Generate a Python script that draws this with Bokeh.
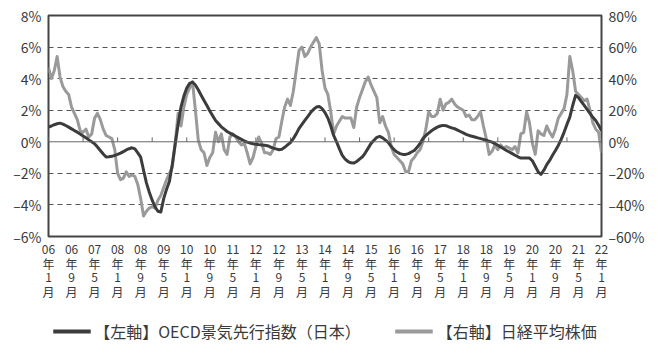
from bokeh.plotting import figure
from bokeh.layouts import column
from bokeh.models import LinearAxis, Range1d, FixedTicker, Span, Legend, LegendItem
from bokeh.embed import file_html
from bokeh.resources import INLINE

# ---- data (monthly, 2006-01 .. 2022-01) ----
oecd_cli = [
    0.93, 1.00, 1.08, 1.14, 1.18, 1.12, 1.03, 0.93, 0.82, 0.71, 0.61, 0.49,
    0.37, 0.25, 0.12, 0.00, -0.12, -0.33, -0.55, -0.77, -0.97, -0.95, -0.92, -0.86,
    -0.80, -0.72, -0.62, -0.52, -0.44, -0.38, -0.45, -0.70, -0.97, -1.80, -2.60, -3.20,
    -3.70, -4.13, -4.40, -4.45, -3.60, -3.00, -2.50, -1.40, -0.12, 1.10, 2.20, 2.90,
    3.40, 3.70, 3.78, 3.60, 3.30, 2.95, 2.62, 2.30, 1.95, 1.65, 1.35, 1.15,
    0.95, 0.80, 0.65, 0.55, 0.45, 0.35, 0.25, 0.15, 0.05, -0.02, -0.08, -0.12,
    -0.15, -0.18, -0.20, -0.22, -0.25, -0.33, -0.40, -0.45, -0.50, -0.48, -0.35, -0.20,
    -0.05, 0.20, 0.50, 0.85, 1.10, 1.35, 1.60, 1.85, 2.05, 2.20, 2.24, 2.10,
    1.85, 1.50, 1.00, 0.40, 0.00, -0.45, -0.86, -1.10, -1.25, -1.33, -1.35, -1.25,
    -1.10, -0.95, -0.70, -0.40, -0.10, 0.10, 0.28, 0.34, 0.25, 0.10, -0.05, -0.30,
    -0.50, -0.65, -0.75, -0.80, -0.80, -0.75, -0.65, -0.55, -0.35, -0.10, 0.20, 0.40,
    0.55, 0.70, 0.82, 0.93, 1.00, 1.04, 1.02, 0.95, 0.88, 0.83, 0.74, 0.65,
    0.56, 0.47, 0.40, 0.35, 0.30, 0.25, 0.20, 0.15, 0.10, 0.03, -0.02, -0.12,
    -0.22, -0.33, -0.44, -0.55, -0.65, -0.75, -0.85, -0.95, -1.03, -1.03, -1.03, -1.03,
    -1.20, -1.55, -1.90, -2.06, -1.80, -1.45, -1.18, -0.85, -0.55, -0.23, 0.15, 0.60,
    1.10, 1.56, 2.30, 2.94, 2.80, 2.55, 2.30, 2.05, 1.80, 1.55, 1.35, 1.05,
    0.72,
]

nikkei_yoy = [
    47, 40, 45, 54, 41, 35, 32, 30, 22, 18, 14, 7,
    6, 8, 3, 5, 15, 18, 14, 8, 4, 3, 2, -5,
    -20, -24, -23, -19, -22, -21, -22, -27, -36, -47, -44, -42,
    -41, -42, -37, -34, -29, -24, -20, -16, -1, 18, 10, 22,
    30, 34, 38, 20, 1, -5, -7, -15, -10, -7, 6, 0,
    5, -5, -8, 3, 5, 3, 0, -2, -1, -7, -14, -10,
    -3, 3, -1, -7, -7, -8, -5, 2, 3, 13, 22, 27,
    23, 32, 45, 58, 60, 54, 56, 60, 63, 66, 62, 45,
    34, 30, 19, 5, 10, 13, 16, 15, 15, 15, 9, 22,
    28, 33, 38, 41, 36, 32, 28, 12, 16, 10, 6, -3,
    -8, -10, -12, -14, -19, -19, -12, -10, -7, -5, 0, 8,
    19, 16, 16, 18, 27, 20, 24, 25, 27, 24, 22, 21,
    20, 16, 17, 14, 14, 16, 19, 10, 2, -8, -6, -2,
    -5, -2, -4, -3, -4, -5, -3, -7, 5, 6, 19, 12,
    -1, -8, 7, 5, 4, 10, 6, 3, 8, 15, 18, 21,
    30, 54, 45, 32, 30, 28, 26, 27, 20, 12, 8, 6,
    -7,
]

tick_labels = ["06年1月", "06年9月", "07年5月", "08年1月", "08年9月", "09年5月", "10年1月",
               "10年9月", "11年5月", "12年1月", "12年9月", "13年5月", "14年1月", "14年9月",
               "15年5月", "16年1月", "16年9月", "17年5月", "18年1月", "18年9月", "19年5月",
               "20年1月", "20年9月", "21年5月", "22年1月"]
left_ticks = [-6, -4, -2, 0, 2, 4, 6, 8]
right_ticks = [-60, -40, -20, 0, 20, 40, 60, 80]
series_names = ["【左軸】OECD景気先行指数（日本）", "【右軸】日経平均株価"]

months = list(range(len(oecd_cli)))
tick_pos = list(range(0, len(oecd_cli), 8))
year_pos = list(range(0, len(oecd_cli), 12))

FONT = "Noto Sans CJK JP"
TXT = "#3a3a3a"
DARK = "#3c3c3c"
GREY = "#9a9a9a"

p = figure(width=660, height=310, output_backend="svg", toolbar_location=None,
           x_range=Range1d(0, 192), y_range=Range1d(-6, 8),
           min_border_left=48, min_border_right=59, min_border_top=15, min_border_bottom=74,
           background_fill_color="white", border_fill_color="white")
p.extra_y_ranges = {"right": Range1d(-60, 80)}

p.outline_line_color = "#444444"
p.outline_line_width = 2

# grid
p.xgrid.visible = False
p.ygrid.ticker = FixedTicker(ticks=[-4, -2, 2, 4, 6])
p.ygrid.grid_line_color = "#555555"
p.ygrid.grid_line_dash = "5 4"
p.ygrid.grid_line_width = 1

p.add_layout(Span(location=0, dimension="width", line_color="#666666", line_width=1))
p.segment(x0=year_pos, y0=[0] * len(year_pos), x1=year_pos, y1=[0.28] * len(year_pos),
          line_color="#666666", line_width=1)

# axes
def style(ax, size):
    ax.axis_line_color = None
    ax.major_tick_line_color = None
    ax.minor_tick_line_color = None
    ax.major_tick_out = 0
    ax.major_tick_in = 0
    ax.minor_tick_out = 0
    ax.minor_tick_in = 0
    ax.axis_label_standoff = 0
    ax.major_label_text_font = FONT
    ax.major_label_text_color = TXT
    ax.major_label_text_font_size = size

ya = p.yaxis[0]
ya.ticker = FixedTicker(ticks=left_ticks)
ya.major_label_overrides = {t: ("–" if t < 0 else "") + f"{abs(t)}%" for t in left_ticks}
ya.major_label_standoff = 7
style(ya, "14px")

ra = LinearAxis(y_range_name="right", ticker=FixedTicker(ticks=right_ticks))
ra.major_label_overrides = {t: ("–" if t < 0 else "") + f"{abs(t)}%" for t in right_ticks}
ra.major_label_standoff = 7
style(ra, "14px")
p.add_layout(ra, "right")

# x tick labels written vertically: one axis per character row
rows = [
    [lab[:2] for lab in tick_labels],
    [lab[2] for lab in tick_labels],
    [lab[3:-1] for lab in tick_labels],
    [lab[-1] for lab in tick_labels],
]
xa = p.xaxis[0]
x_axes = [xa] + [LinearAxis() for _ in rows[1:]]
for i, (ax, row) in enumerate(zip(x_axes, rows)):
    ax.ticker = FixedTicker(ticks=tick_pos)
    ax.major_label_overrides = dict(zip(tick_pos, row))
    ax.major_label_standoff = 8 if i == 0 else -2
    style(ax, "12px")
    if i > 0:
        p.add_layout(ax, "below")

# lines
p.line(months, nikkei_yoy, y_range_name="right", line_color=GREY, line_width=3,
       line_join="round")
p.line(months, oecd_cli, line_color=DARK, line_width=3, line_join="round")

# legend strip below the chart (swatch renderers sit outside the visible range)
pl = figure(width=660, height=42, output_backend="svg", toolbar_location=None,
            x_range=Range1d(0, 1), y_range=Range1d(0, 1),
            x_axis_location=None, y_axis_location=None,
            min_border_left=0, min_border_right=14, min_border_top=0, min_border_bottom=0,
            background_fill_color="white", border_fill_color="white")
pl.outline_line_color = None
pl.xgrid.visible = False
pl.ygrid.visible = False
l1 = pl.line([-5, -4], [-5, -5], line_color=DARK, line_width=4)
l2 = pl.line([-5, -4], [-6, -6], line_color=GREY, line_width=4)

legend = Legend(items=[LegendItem(label=series_names[0], renderers=[l1]),
                       LegendItem(label=series_names[1], renderers=[l2])],
                orientation="horizontal", location="center")
legend.label_text_font = FONT
legend.label_text_font_size = "16px"
legend.label_text_color = TXT
legend.glyph_width = 38
legend.spacing = 34
legend.label_standoff = 4
legend.border_line_color = None
legend.background_fill_alpha = 0
legend.margin = 0
legend.padding = 0
pl.add_layout(legend, "center")

layout = column(p, pl, spacing=0)
open("out.html", "w").write(file_html(layout, INLINE))
